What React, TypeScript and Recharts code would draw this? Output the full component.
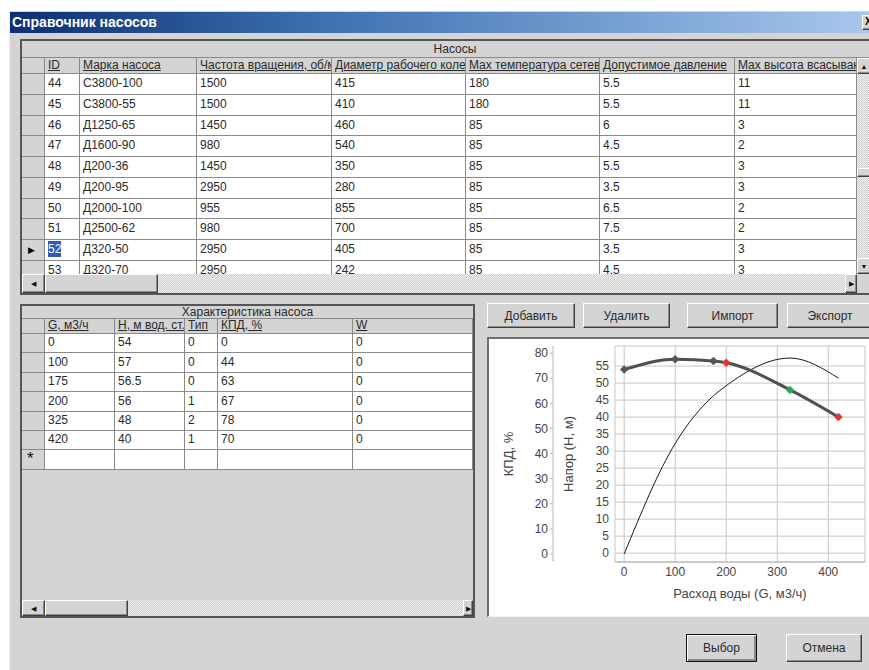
import React from 'react';
import { ComposedChart, Line, XAxis, YAxis, CartesianGrid, ReferenceArea } from 'recharts';

// ---------- data: pump list ----------
const pumpHeaders = ['ID', 'Марка насоса', 'Частота вращения, об/мин', 'Диаметр рабочего колеса', 'Max температура сетевой воды', 'Допустимое давление', 'Max высота всасывания'];
const pumpIds = [44, 45, 46, 47, 48, 49, 50, 51, 52, 53];
const pumpNames = ['С3800-100', 'С3800-55', 'Д1250-65', 'Д1600-90', 'Д200-36', 'Д200-95', 'Д2000-100', 'Д2500-62', 'Д320-50', 'Д320-70'];
const pumpSpeeds = [1500, 1500, 1450, 980, 1450, 2950, 955, 980, 2950, 2950];
const pumpDiameters = [415, 410, 460, 540, 350, 280, 855, 700, 405, 242];
const pumpMaxTemps = [180, 180, 85, 85, 85, 85, 85, 85, 85, 85];
const pumpPressures = ['5.5', '5.5', '6', '4.5', '5.5', '3.5', '6.5', '7.5', '3.5', '4.5'];
const pumpSuction = [11, 11, 3, 2, 3, 3, 2, 2, 3, 3];
const selectedPumpId = 52;

// ---------- data: pump characteristic ----------
const charHeaders = ['G, м3/ч', 'Н, м вод. ст.', 'Тип', 'КПД, %', 'W'];
const flowG = [0, 100, 175, 200, 325, 420];
const headH = ['54', '57', '56.5', '56', '48', '40'];
const pointType = [0, 0, 0, 1, 2, 1];
const efficiency = [0, 44, 63, 67, 78, 70];
const powerW = [0, 0, 0, 0, 0, 0];

// ---------- axis ticks ----------
const xTicks = [0, 100, 200, 300, 400];
const hTicks = [0, 5, 10, 15, 20, 25, 30, 35, 40, 45, 50, 55];
const kpdTicks = [0, 10, 20, 30, 40, 50, 60, 70, 80];

const chartData = flowG.map((g, i) => ({ g, h: parseFloat(headH[i]), kpd: efficiency[i], type: pointType[i] }));

const BG = '#d4d4d4';
const FONT = '"Liberation Sans", Arial, sans-serif';
const TXT = '#2a2a2a';
const LINE = '#8a8a8a';
const typeColors = ['#555555', '#e0362b', '#20b04e'];

const abs = (x: number, y: number, w: number, h: number, extra: any = {}) => ({
  position: 'absolute' as const, left: x, top: y, width: w, height: h, boxSizing: 'border-box' as const, ...extra,
});

const raised = {
  background: BG,
  borderTop: '1px solid #ffffff',
  borderLeft: '1px solid #ffffff',
  borderRight: '1px solid #404040',
  borderBottom: '1px solid #404040',
  boxShadow: 'inset -1px -1px 0 #8a8a8a',
};

const hatch = {
  background: 'repeating-conic-gradient(#cfcfcf 0% 25%, #efefef 0% 50%) 0 0 / 2px 2px',
};

function Btn({ x, y, w, h, label, def }: any) {
  const st: any = def
    ? { ...raised, border: '1px solid #111', boxShadow: 'inset 1px 1px 0 #fff, inset -2px -2px 0 #8a8a8a' }
    : raised;
  return (
    <div style={abs(x, y, w, h, { ...st, display: 'flex', alignItems: 'center', justifyContent: 'center', fontFamily: FONT, fontSize: 12, color: TXT })}>
      {label}
    </div>
  );
}

function Arrow({ x, y, w, h, ch }: any) {
  return (
    <div style={abs(x, y, w, h, { ...raised, display: 'flex', alignItems: 'center', justifyContent: 'center', fontSize: 7, color: '#111', lineHeight: 1 })}>
      {ch}
    </div>
  );
}

function Cell({ x, y, w, h, text, gray, underline, children, color }: any) {
  return (
    <div
      style={abs(x, y, w, h, {
        background: gray ? BG : '#ffffff',
        borderRight: `1px solid ${LINE}`,
        borderBottom: `1px solid ${LINE}`,
        fontFamily: FONT,
        fontSize: 12,
        color: color || TXT,
        lineHeight: `${h - 2}px`,
        paddingLeft: 3,
        whiteSpace: 'nowrap',
        overflow: 'hidden',
        textDecoration: underline ? 'underline' : 'none',
      })}
    >
      {children !== undefined ? children : text}
    </div>
  );
}

function PumpTable() {
  const colX = [22, 45, 80, 197, 332, 466, 600, 735, 857];
  const rows = pumpIds.map((id, i) => [
    String(id), pumpNames[i], String(pumpSpeeds[i]), String(pumpDiameters[i]), String(pumpMaxTemps[i]), pumpPressures[i], String(pumpSuction[i]),
  ]);
  const rowTop = (i: number) => Math.round(74 + i * 20.75);
  const cells: any[] = [];
  cells.push(<Cell key="hsel" x={0} y={0} w={colX[1] - colX[0]} h={16} gray />);
  pumpHeaders.forEach((t, c) => {
    cells.push(<Cell key={'h' + c} x={colX[c + 1] - 22} y={0} w={colX[c + 2] - colX[c + 1]} h={16} gray underline text={t} />);
  });
  rows.forEach((r, i) => {
    const y = rowTop(i) - 58;
    const h = rowTop(i + 1) - rowTop(i);
    const sel = pumpIds[i] === selectedPumpId;
    cells.push(
      <Cell key={'s' + i} x={0} y={y} w={colX[1] - colX[0]} h={h} gray>
        {sel ? <span style={{ fontSize: 9, color: '#000', marginLeft: 3 }}>▶</span> : null}
      </Cell>
    );
    r.forEach((t, c) => {
      cells.push(
        <Cell key={'c' + i + '_' + c} x={colX[c + 1] - 22} y={y} w={colX[c + 2] - colX[c + 1]} h={h}>
          {sel && c === 0 ? (
            <span style={{ background: '#2c5cb5', color: '#fff', padding: '1px 0' }}>{t}</span>
          ) : t}
        </Cell>
      );
    });
  });
  return (
    <>
      <div style={abs(20, 39, 880, 256, { border: '2px solid #555', borderRight: 'none', background: BG })} />
      <div style={abs(22, 41, 866, 17, { borderBottom: `1px solid ${LINE}`, fontFamily: FONT, fontSize: 12, color: TXT, textAlign: 'center', lineHeight: '16px' })}>
        Насосы
      </div>
      <div style={abs(22, 58, 835, 216, { overflow: 'hidden', background: '#fff' })}>{cells}</div>
      <div style={abs(857, 58, 14, 216, hatch)} />
      <Arrow x={857} y={58} w={14} h={16} ch="▲" />
      <div style={abs(857, 168, 14, 9, raised)} />
      <Arrow x={857} y={258} w={14} h={16} ch="▼" />
      <div style={abs(22, 274, 835, 19, hatch)} />
      <Arrow x={22} y={274} w={23} h={19} ch="◀" />
      <div style={abs(45, 274, 113, 19, raised)} />
      <Arrow x={845} y={274} w={12} h={19} ch="▶" />
      <div style={abs(857, 274, 14, 19, { background: BG })} />
    </>
  );
}

function CharTable() {
  const colX = [22, 45, 115, 185, 218, 353, 473];
  const rowTop = (i: number) => Math.round(334 + i * 19.4);
  const rows = flowG.map((g, i) => [String(g), headH[i], String(pointType[i]), String(efficiency[i]), String(powerW[i])]);
  const cells: any[] = [];
  const oy = 319;
  cells.push(<Cell key="hsel" x={0} y={0} w={colX[1] - colX[0]} h={15} gray />);
  charHeaders.forEach((t, c) => {
    cells.push(<Cell key={'h' + c} x={colX[c + 1] - 22} y={0} w={colX[c + 2] - colX[c + 1]} h={15} gray underline text={t} />);
  });
  const allRows = [...rows, ['', '', '', '', '']];
  allRows.forEach((r, i) => {
    const y = rowTop(i) - oy;
    const h = rowTop(i + 1) - rowTop(i);
    const last = i === rows.length;
    cells.push(
      <Cell key={'s' + i} x={0} y={y} w={colX[1] - colX[0]} h={h} gray>
        {last ? <span style={{ fontSize: 17, color: '#111', marginLeft: 2 }}>*</span> : null}
      </Cell>
    );
    r.forEach((t, c) => {
      cells.push(<Cell key={'c' + i + '_' + c} x={colX[c + 1] - 22} y={y} w={colX[c + 2] - colX[c + 1]} h={h} text={t} />);
    });
  });
  return (
    <>
      <div style={abs(20, 304, 455, 314, { border: '2px solid #555', background: BG })} />
      <div style={abs(22, 306, 451, 13, { borderBottom: `1px solid ${LINE}`, fontFamily: FONT, fontSize: 12, color: TXT, textAlign: 'center', lineHeight: '12px' })}>
        Характеристика насоса
      </div>
      <div style={abs(22, oy, 451, 281, { overflow: 'hidden' })}>{cells}</div>
      <div style={abs(22, 600, 451, 16, hatch)} />
      <Arrow x={22} y={600} w={23} h={16} ch="◀" />
      <div style={abs(45, 600, 83, 16, raised)} />
      <Arrow x={463} y={600} w={10} h={16} ch="▶" />
    </>
  );
}

const Diamond = (props: any) => {
  const { cx, cy, payload } = props;
  if (cx == null || cy == null) return null;
  const c = typeColors[payload.type] || typeColors[0];
  const r = 4;
  return <polygon points={`${cx},${cy - r} ${cx + r},${cy} ${cx},${cy + r} ${cx - r},${cy}`} fill={c} stroke={c} strokeWidth={0.5} />;
};

function PumpChart() {
  const tick = { fill: '#444', fontSize: 12, fontFamily: FONT };
  return (
    <ComposedChart width={381} height={277} data={chartData} margin={{ top: 8, right: 4, bottom: 15, left: 0 }}>
      <CartesianGrid yAxisId="h" stroke="#c6c6c6" strokeWidth={1} />
      <XAxis
        dataKey="g"
        type="number"
        domain={[-18, 472]}
        ticks={xTicks}
        interval={0}
        allowDataOverflow
        height={38}
        tickLine={false}
        axisLine={{ stroke: '#b0b0b0' }}
        tickSize={3}
        tickMargin={2}
        tick={tick}
        label={{ value: 'Расход воды (G, м3/ч)', position: 'insideBottom', offset: 2, fill: '#444', fontSize: 13, fontFamily: FONT }}
      />
      <YAxis
        yAxisId="h"
        type="number"
        domain={[-2.6, 60.9]}
        ticks={hTicks}
        interval={0}
        allowDataOverflow
        width={62}
        axisLine={false}
        tickLine={false}
        tickSize={4}
        tickMargin={2}
        tick={tick}
        label={{ value: 'Напор (Н, м)', angle: -90, position: 'insideLeft', offset: 15, fill: '#444', fontSize: 13, fontFamily: FONT, style: { textAnchor: 'middle' } }}
      />
      <YAxis
        yAxisId="kpd"
        type="number"
        domain={[-3.2, 82.8]}
        ticks={kpdTicks}
        interval={0}
        allowDataOverflow
        width={65}
        axisLine={{ stroke: '#b8b8b8' }}
        tickLine={{ stroke: '#b8b8b8' }}
        tickSize={3}
        tickMargin={2}
        tick={tick}
        label={{ value: 'КПД, %', angle: -90, position: 'insideLeft', offset: 20, fill: '#444', fontSize: 13, fontFamily: FONT, style: { textAnchor: 'middle' } }}
      />
      <ReferenceArea yAxisId="h" fill="none" stroke="#b0b0b0" strokeWidth={1} />
      <Line yAxisId="kpd" dataKey="kpd" type="monotone" stroke="#1a1a1a" strokeWidth={1} dot={false} isAnimationActive={false} />
      <Line yAxisId="h" dataKey="h" type="monotone" stroke="#505050" strokeWidth={3} dot={<Diamond />} activeDot={false} isAnimationActive={false} />
    </ComposedChart>
  );
}

export default function App() {
  return (
    <div style={{ position: 'absolute', left: 0, top: 0, width: 869, height: 670, overflow: 'hidden', background: '#ffffff', fontFamily: FONT }}>
      <div style={abs(9, 11, 880, 680, { background: BG, borderLeft: '1px solid #f0f0f0' })} />
      <div style={abs(10, 12, 870, 21, { background: 'linear-gradient(to right, #0c2f70 0%, #3b6fb0 35%, #a9c9ee 100%)' })}>
        <div style={{ position: 'absolute', left: 2, top: 2, color: '#fff', fontWeight: 'bold', fontSize: 14, fontFamily: FONT, lineHeight: '17px' }}>
          Справочник насосов
        </div>
      </div>
      <div style={abs(862, 15, 16, 15, { ...raised, fontSize: 10, fontWeight: 'bold', color: '#000', lineHeight: '12px', paddingLeft: 2 })}>X</div>

      <PumpTable />
      <CharTable />

      <Btn x={487} y={303} w={88} h={25} label="Добавить" />
      <Btn x={583} y={303} w={87} h={25} label="Удалить" />
      <Btn x={687} y={303} w={91} h={25} label="Импорт" />
      <Btn x={787} y={303} w={86} h={25} label="Экспорт" />

      <div style={abs(487, 337, 386, 280, { background: '#ffffff', borderTop: '2px solid #707070', borderLeft: '2px solid #707070', borderBottom: '1px solid #f4f4f4' })} />
      <div style={{ position: 'absolute', left: 488, top: 338 }}>
        <PumpChart />
      </div>

      <Btn x={686} y={634} w={71} h={28} label="Выбор" def />
      <Btn x={786} y={634} w={76} h={28} label="Отмена" />
    </div>
  );
}
